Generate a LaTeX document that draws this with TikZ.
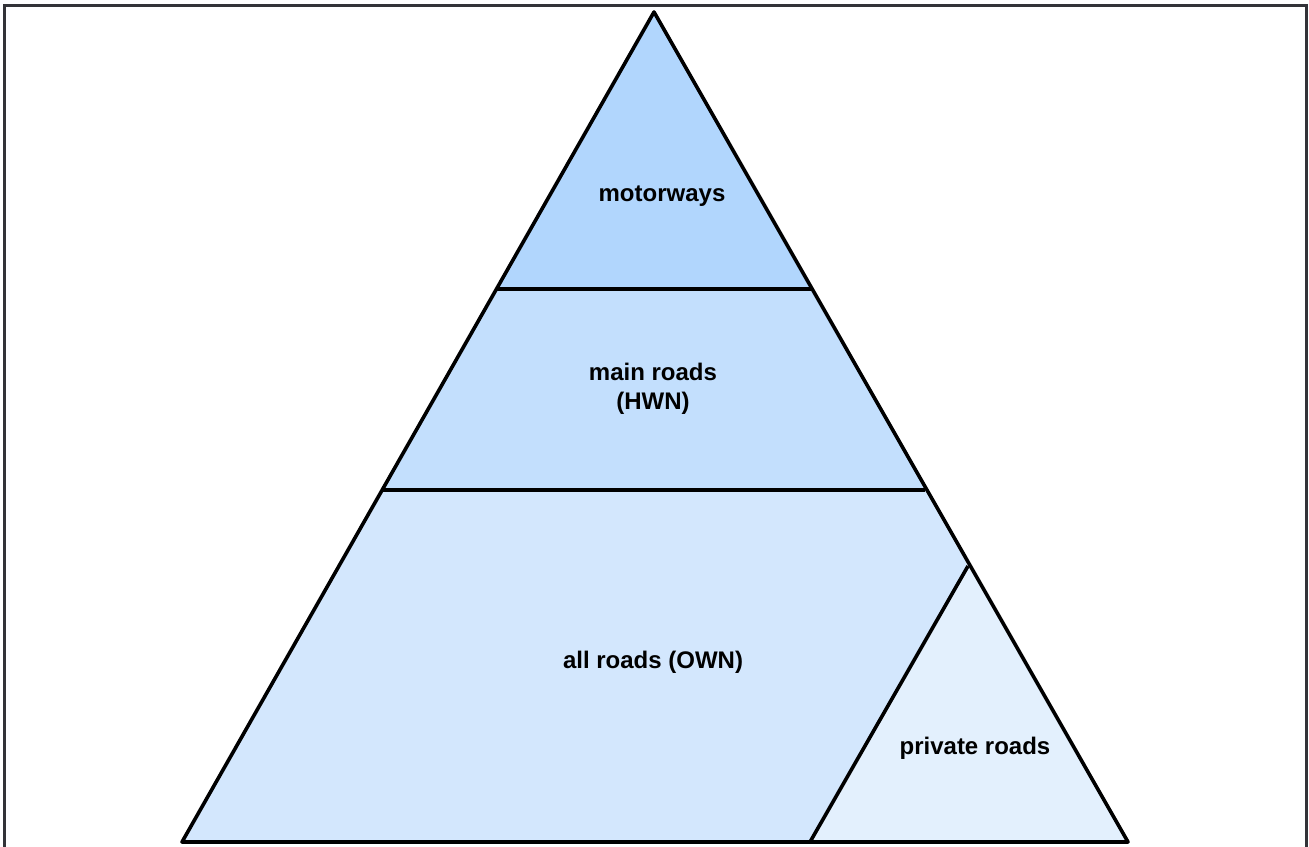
\documentclass[tikz,border=0pt]{standalone}
\usepackage{fontspec}
\setmainfont{Liberation Sans}
\definecolor{cmot}{HTML}{B1D6FD}
\definecolor{cmain}{HTML}{C3DFFD}
\definecolor{call}{HTML}{D3E7FD}
\definecolor{cpriv}{HTML}{E3F0FD}
\definecolor{frame}{HTML}{333338}
\begin{document}
\begin{tikzpicture}[x=1pt,y=-1pt,
  edge/.style={draw=black,line width=3.6pt,line join=round},
  lbl/.style={font=\fontsize{24}{29}\selectfont\bfseries,align=center,inner sep=0pt}]
\useasboundingbox (0,0) rectangle (1309,846);
\clip (0,0) rectangle (1309,846);
% frame
\draw[frame,line width=3pt] (4,860) -- (4,5) -- (1306,5) -- (1306,860);
% coordinates
\coordinate (A) at (654,12);
\coordinate (BL) at (182,842);
\coordinate (BR) at (1128,842);
\coordinate (L1) at (497,289);
\coordinate (R1) at (811,289);
\coordinate (L2) at (383,490);
\coordinate (R2) at (925,490);
\coordinate (P) at (968,566);
\coordinate (PB) at (810,842);
% fills
\fill[cmot] (A) -- (R1) -- (L1) -- cycle;
\fill[cmain] (L1) -- (R1) -- (R2) -- (L2) -- cycle;
\fill[call] (L2) -- (R2) -- (P) -- (PB) -- (BL) -- cycle;
\fill[cpriv] (P) -- (BR) -- (PB) -- cycle;
% outlines
\draw[edge] (A) -- (BR) -- (BL) -- cycle;
\draw[edge] (L1) -- (R1);
\draw[edge] (L2) -- (R2);
\draw[edge] (P) -- (PB);
% labels
\node[lbl] (mot) at (662,196) {motorways};
\node[lbl] (main) at (653,389) {main roads\\(HWN)};
\node[lbl] (all) at (653,662) {all roads (OWN)};
\node[lbl] (priv) at (975,748) {private roads};
\end{tikzpicture}
\end{document}
